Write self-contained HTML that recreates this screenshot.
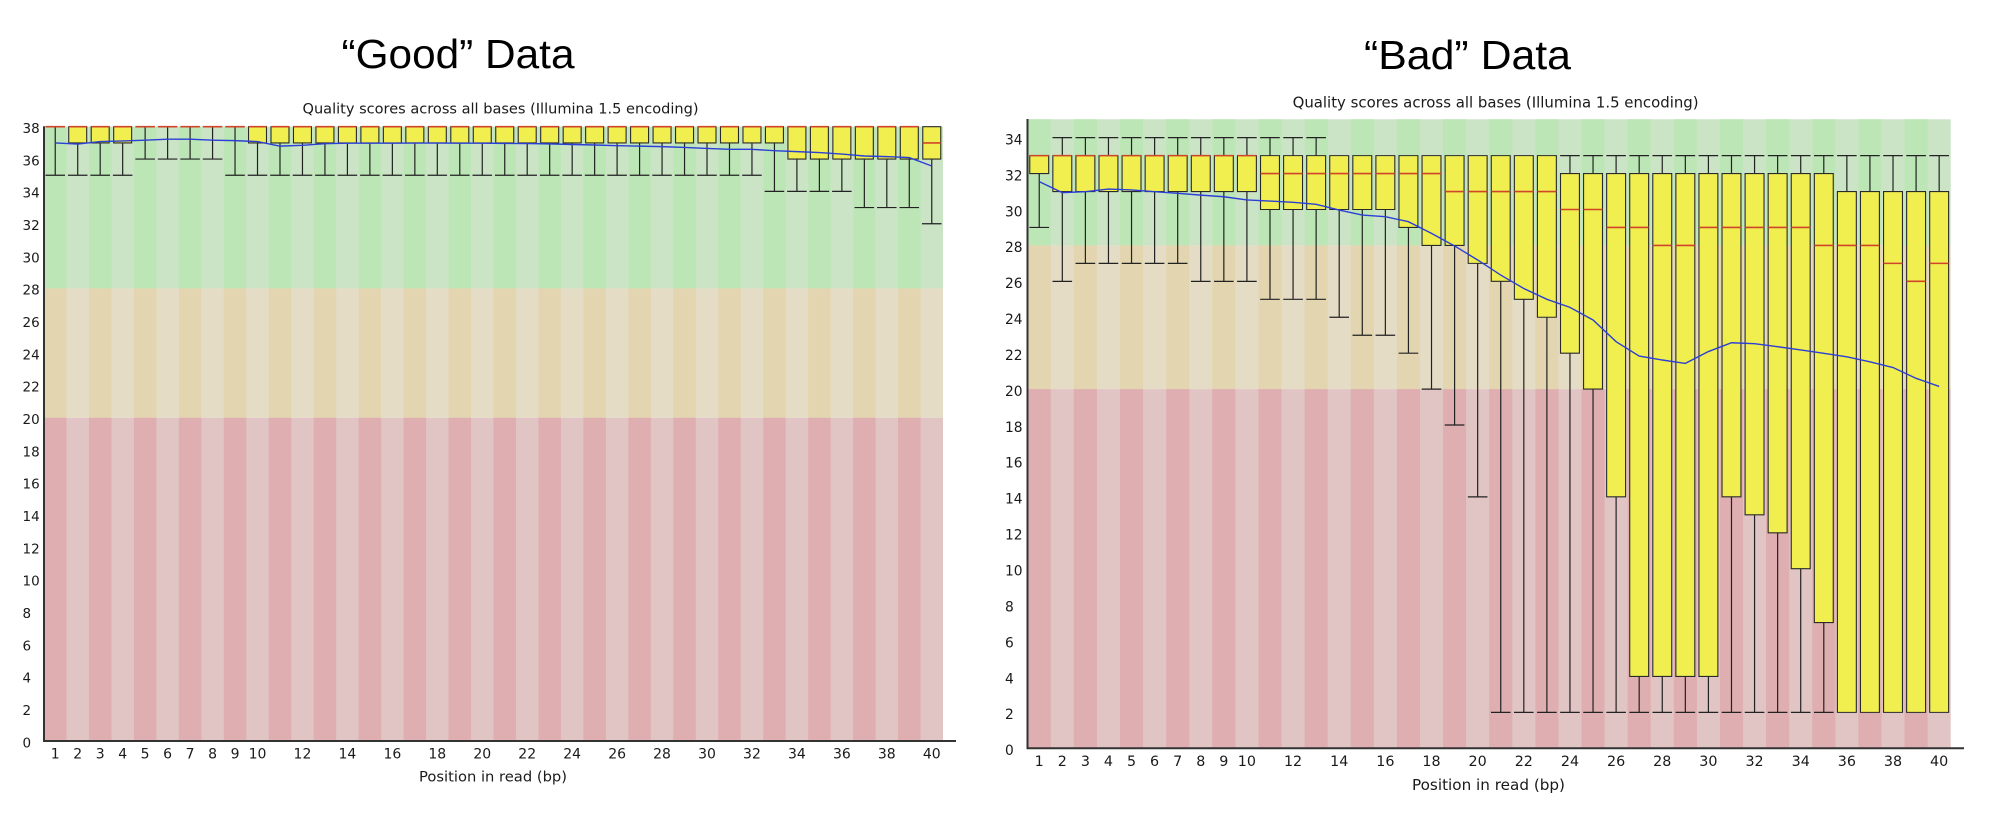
<!DOCTYPE html>
<html><head><meta charset="utf-8"><style>
html,body{margin:0;padding:0;background:#fff;}
svg{display:block;}
.g *{vector-effect:non-scaling-stroke;}
.big{font-family:"Liberation Sans",Arial,sans-serif;font-size:41px;fill:#000;}
.tt{font-family:"DejaVu Sans","Liberation Sans",sans-serif;fill:#1a1a1a;}
</style></head><body>
<svg width="1994" height="826" viewBox="0 0 1994 826" xmlns="http://www.w3.org/2000/svg">
<rect width="1994" height="826" fill="#fff"/>
<text class="big" x="458" y="68" text-anchor="middle" textLength="233" lengthAdjust="spacingAndGlyphs">“Good” Data</text>
<text class="big" x="1467.5" y="69" text-anchor="middle" textLength="207" lengthAdjust="spacingAndGlyphs">“Bad” Data</text>
<text class="tt" x="500.5" y="113.5" font-size="14.6" text-anchor="middle" textLength="396" lengthAdjust="spacingAndGlyphs">Quality scores across all bases (Illumina 1.5 encoding)</text>
<text class="tt" x="1495.6" y="107.5" font-size="15" text-anchor="middle" textLength="406" lengthAdjust="spacingAndGlyphs">Quality scores across all bases (Illumina 1.5 encoding)</text>

<!-- LEFT backgrounds -->
<rect x="44" y="126.7" width="899" height="161.7" fill="#cbe4c6"/>
<rect x="44" y="288.4" width="899" height="129.3" fill="#e5dcc6"/>
<rect x="44" y="417.7" width="899" height="323.3" fill="#e1c4c4"/>
<line x1="44" y1="207.55" x2="943" y2="207.55" stroke="#bce6b6" stroke-width="161.7" stroke-dasharray="22.475 22.475"/>
<line x1="44" y1="353.05" x2="943" y2="353.05" stroke="#e3d5b0" stroke-width="129.3" stroke-dasharray="22.475 22.475"/>
<line x1="44" y1="579.35" x2="943" y2="579.35" stroke="#dfaeb0" stroke-width="323.3" stroke-dasharray="22.475 22.475"/>

<!-- RIGHT backgrounds -->
<rect x="1027.7" y="119.3" width="923" height="126.12" fill="#cbe4c6"/>
<rect x="1027.7" y="245.42" width="923" height="143.68" fill="#e5dcc6"/>
<rect x="1027.7" y="389.1" width="923" height="359.2" fill="#e1c4c4"/>
<line x1="1027.7" y1="182.36" x2="1950.7" y2="182.36" stroke="#bce6b6" stroke-width="126.12" stroke-dasharray="23.075 23.075"/>
<line x1="1027.7" y1="317.26" x2="1950.7" y2="317.26" stroke="#e3d5b0" stroke-width="143.68" stroke-dasharray="23.075 23.075"/>
<line x1="1027.7" y1="568.7" x2="1950.7" y2="568.7" stroke="#dfaeb0" stroke-width="359.2" stroke-dasharray="23.075 23.075"/>

<!-- LEFT data -->
<g class="g" transform="translate(44,741) scale(22.475,-16.165)">
<path fill="none" stroke="#222" stroke-width="1.2" d="M0.5 38V35M0.065 35H0.935M1.5 37V35M1.065 35H1.935M2.5 37V35M2.065 35H2.935M3.5 37V35M3.065 35H3.935M4.5 38V36M4.065 36H4.935M5.5 38V36M5.065 36H5.935M6.5 38V36M6.065 36H6.935M7.5 38V36M7.065 36H7.935M8.5 38V35M8.065 35H8.935M9.5 37V35M9.065 35H9.935M10.5 37V35M10.065 35H10.935M11.5 37V35M11.065 35H11.935M12.5 37V35M12.065 35H12.935M13.5 37V35M13.065 35H13.935M14.5 37V35M14.065 35H14.935M15.5 37V35M15.065 35H15.935M16.5 37V35M16.065 35H16.935M17.5 37V35M17.065 35H17.935M18.5 37V35M18.065 35H18.935M19.5 37V35M19.065 35H19.935M20.5 37V35M20.065 35H20.935M21.5 37V35M21.065 35H21.935M22.5 37V35M22.065 35H22.935M23.5 37V35M23.065 35H23.935M24.5 37V35M24.065 35H24.935M25.5 37V35M25.065 35H25.935M26.5 37V35M26.065 35H26.935M27.5 37V35M27.065 35H27.935M28.5 37V35M28.065 35H28.935M29.5 37V35M29.065 35H29.935M30.5 37V35M30.065 35H30.935M31.5 37V35M31.065 35H31.935M32.5 37V34M32.065 34H32.935M33.5 36V34M33.065 34H33.935M34.5 36V34M34.065 34H34.935M35.5 36V34M35.065 34H35.935M36.5 36V33M36.065 33H36.935M37.5 36V33M37.065 33H37.935M38.5 36V33M38.065 33H38.935M39.5 36V32M39.065 32H39.935"/>
<path fill="#f1ef4f" stroke="#2a2a2a" stroke-width="1.1" d="M1.1 37H1.9V38H1.1ZM2.1 37H2.9V38H2.1ZM3.1 37H3.9V38H3.1ZM9.1 37H9.9V38H9.1ZM10.1 37H10.9V38H10.1ZM11.1 37H11.9V38H11.1ZM12.1 37H12.9V38H12.1ZM13.1 37H13.9V38H13.1ZM14.1 37H14.9V38H14.1ZM15.1 37H15.9V38H15.1ZM16.1 37H16.9V38H16.1ZM17.1 37H17.9V38H17.1ZM18.1 37H18.9V38H18.1ZM19.1 37H19.9V38H19.1ZM20.1 37H20.9V38H20.1ZM21.1 37H21.9V38H21.1ZM22.1 37H22.9V38H22.1ZM23.1 37H23.9V38H23.1ZM24.1 37H24.9V38H24.1ZM25.1 37H25.9V38H25.1ZM26.1 37H26.9V38H26.1ZM27.1 37H27.9V38H27.1ZM28.1 37H28.9V38H28.1ZM29.1 37H29.9V38H29.1ZM30.1 37H30.9V38H30.1ZM31.1 37H31.9V38H31.1ZM32.1 37H32.9V38H32.1ZM33.1 36H33.9V38H33.1ZM34.1 36H34.9V38H34.1ZM35.1 36H35.9V38H35.1ZM36.1 36H36.9V38H36.1ZM37.1 36H37.9V38H37.1ZM38.1 36H38.9V38H38.1ZM39.1 36H39.9V38H39.1Z"/>
<path fill="none" stroke="#d0452a" stroke-width="1.6" d="M0.065 38H0.935M1.1 38H1.9M2.1 38H2.9M3.1 38H3.9M4.065 38H4.935M5.065 38H5.935M6.065 38H6.935M7.065 38H7.935M8.065 38H8.935M9.1 38H9.9M10.1 38H10.9M11.1 38H11.9M12.1 38H12.9M13.1 38H13.9M14.1 38H14.9M15.1 38H15.9M16.1 38H16.9M17.1 38H17.9M18.1 38H18.9M19.1 38H19.9M20.1 38H20.9M21.1 38H21.9M22.1 38H22.9M23.1 38H23.9M24.1 38H24.9M25.1 38H25.9M26.1 38H26.9M27.1 38H27.9M28.1 38H28.9M29.1 38H29.9M30.1 38H30.9M31.1 38H31.9M32.1 38H32.9M33.1 38H33.9M34.1 38H34.9M35.1 38H35.9M36.1 38H36.9M37.1 38H37.9M38.1 38H38.9M39.1 37H39.9"/>
<polyline fill="none" stroke="#2b3fd6" stroke-width="1.4" points="0.5,37 1.5,36.93 2.5,37.08 3.5,37.12 4.5,37.17 5.5,37.23 6.5,37.23 7.5,37.17 8.5,37.14 9.5,37.08 10.5,36.8 11.5,36.85 12.5,36.95 13.5,36.98 14.5,36.98 15.5,36.98 16.5,36.99 17.5,36.99 18.5,36.98 19.5,36.98 20.5,36.97 21.5,36.96 22.5,36.94 23.5,36.9 24.5,36.87 25.5,36.83 26.5,36.8 27.5,36.77 28.5,36.72 29.5,36.66 30.5,36.6 31.5,36.6 32.5,36.52 33.5,36.46 34.5,36.4 35.5,36.31 36.5,36.19 37.5,36.15 38.5,36.09 39.5,35.57"/>
</g>

<!-- RIGHT data -->
<g class="g" transform="translate(1027.7,748.3) scale(23.075,-17.96)">
<path fill="none" stroke="#222" stroke-width="1.2" d="M0.5 32V29M0.075 29H0.925M1.5 31V26M1.075 26H1.925M1.5 33V34M1.075 34H1.925M2.5 31V27M2.075 27H2.925M2.5 33V34M2.075 34H2.925M3.5 31V27M3.075 27H3.925M3.5 33V34M3.075 34H3.925M4.5 31V27M4.075 27H4.925M4.5 33V34M4.075 34H4.925M5.5 31V27M5.075 27H5.925M5.5 33V34M5.075 34H5.925M6.5 31V27M6.075 27H6.925M6.5 33V34M6.075 34H6.925M7.5 31V26M7.075 26H7.925M7.5 33V34M7.075 34H7.925M8.5 31V26M8.075 26H8.925M8.5 33V34M8.075 34H8.925M9.5 31V26M9.075 26H9.925M9.5 33V34M9.075 34H9.925M10.5 30V25M10.075 25H10.925M10.5 33V34M10.075 34H10.925M11.5 30V25M11.075 25H11.925M11.5 33V34M11.075 34H11.925M12.5 30V25M12.075 25H12.925M12.5 33V34M12.075 34H12.925M13.5 30V24M13.075 24H13.925M14.5 30V23M14.075 23H14.925M15.5 30V23M15.075 23H15.925M16.5 29V22M16.075 22H16.925M17.5 28V20M17.075 20H17.925M18.5 28V18M18.075 18H18.925M19.5 27V14M19.075 14H19.925M20.5 26V2M20.075 2H20.925M21.5 25V2M21.075 2H21.925M22.5 24V2M22.075 2H22.925M23.5 22V2M23.075 2H23.925M23.5 32V33M23.075 33H23.925M24.5 20V2M24.075 2H24.925M24.5 32V33M24.075 33H24.925M25.5 14V2M25.075 2H25.925M25.5 32V33M25.075 33H25.925M26.5 4V2M26.075 2H26.925M26.5 32V33M26.075 33H26.925M27.5 4V2M27.075 2H27.925M27.5 32V33M27.075 33H27.925M28.5 4V2M28.075 2H28.925M28.5 32V33M28.075 33H28.925M29.5 4V2M29.075 2H29.925M29.5 32V33M29.075 33H29.925M30.5 14V2M30.075 2H30.925M30.5 32V33M30.075 33H30.925M31.5 13V2M31.075 2H31.925M31.5 32V33M31.075 33H31.925M32.5 12V2M32.075 2H32.925M32.5 32V33M32.075 33H32.925M33.5 10V2M33.075 2H33.925M33.5 32V33M33.075 33H33.925M34.5 7V2M34.075 2H34.925M34.5 32V33M34.075 33H34.925M35.5 31V33M35.075 33H35.925M36.5 31V33M36.075 33H36.925M37.5 31V33M37.075 33H37.925M38.5 31V33M38.075 33H38.925M39.5 31V33M39.075 33H39.925"/>
<path fill="#f1ef4f" stroke="#2a2a2a" stroke-width="1.1" d="M0.09 32H0.91V33H0.09ZM1.09 31H1.91V33H1.09ZM2.09 31H2.91V33H2.09ZM3.09 31H3.91V33H3.09ZM4.09 31H4.91V33H4.09ZM5.09 31H5.91V33H5.09ZM6.09 31H6.91V33H6.09ZM7.09 31H7.91V33H7.09ZM8.09 31H8.91V33H8.09ZM9.09 31H9.91V33H9.09ZM10.09 30H10.91V33H10.09ZM11.09 30H11.91V33H11.09ZM12.09 30H12.91V33H12.09ZM13.09 30H13.91V33H13.09ZM14.09 30H14.91V33H14.09ZM15.09 30H15.91V33H15.09ZM16.09 29H16.91V33H16.09ZM17.09 28H17.91V33H17.09ZM18.09 28H18.91V33H18.09ZM19.09 27H19.91V33H19.09ZM20.09 26H20.91V33H20.09ZM21.09 25H21.91V33H21.09ZM22.09 24H22.91V33H22.09ZM23.09 22H23.91V32H23.09ZM24.09 20H24.91V32H24.09ZM25.09 14H25.91V32H25.09ZM26.09 4H26.91V32H26.09ZM27.09 4H27.91V32H27.09ZM28.09 4H28.91V32H28.09ZM29.09 4H29.91V32H29.09ZM30.09 14H30.91V32H30.09ZM31.09 13H31.91V32H31.09ZM32.09 12H32.91V32H32.09ZM33.09 10H33.91V32H33.09ZM34.09 7H34.91V32H34.09ZM35.09 2H35.91V31H35.09ZM36.09 2H36.91V31H36.09ZM37.09 2H37.91V31H37.09ZM38.09 2H38.91V31H38.09ZM39.09 2H39.91V31H39.09Z"/>
<path fill="none" stroke="#d0452a" stroke-width="1.6" d="M0.09 33H0.91M1.09 33H1.91M2.09 33H2.91M3.09 33H3.91M4.09 33H4.91M5.09 33H5.91M6.09 33H6.91M7.09 33H7.91M8.09 33H8.91M9.09 33H9.91M10.09 32H10.91M11.09 32H11.91M12.09 32H12.91M13.09 32H13.91M14.09 32H14.91M15.09 32H15.91M16.09 32H16.91M17.09 32H17.91M18.09 31H18.91M19.09 31H19.91M20.09 31H20.91M21.09 31H21.91M22.09 31H22.91M23.09 30H23.91M24.09 30H24.91M25.09 29H25.91M26.09 29H26.91M27.09 28H27.91M28.09 28H28.91M29.09 29H29.91M30.09 29H30.91M31.09 29H31.91M32.09 29H32.91M33.09 29H33.91M34.09 28H34.91M35.09 28H35.91M36.09 28H36.91M37.09 27H37.91M38.09 26H38.91M39.09 27H39.91"/>
<polyline fill="none" stroke="#2b3fd6" stroke-width="1.4" points="0.5,31.55 1.5,30.94 2.5,30.99 3.5,31.14 4.5,31.09 5.5,30.99 6.5,30.9 7.5,30.8 8.5,30.71 9.5,30.53 10.5,30.47 11.5,30.4 12.5,30.29 13.5,29.97 14.5,29.69 15.5,29.6 16.5,29.32 17.5,28.67 18.5,27.97 19.5,27.19 20.5,26.35 21.5,25.6 22.5,25.0 23.5,24.55 24.5,23.85 25.5,22.64 26.5,21.84 27.5,21.62 28.5,21.43 29.5,22.09 30.5,22.58 31.5,22.53 32.5,22.36 33.5,22.18 34.5,21.99 35.5,21.8 36.5,21.52 37.5,21.2 38.5,20.6 39.5,20.15"/>
</g>

<!-- axes -->
<path fill="none" stroke="#333" stroke-width="2" d="M44 126.2V741H956"/>
<path fill="none" stroke="#333" stroke-width="2" d="M1027.5 119V748.3H1964"/>

<!-- LEFT y labels -->
<g class="tt" font-size="13.5">
<text x="22.5" y="747.3">0</text><text x="22.5" y="715">2</text><text x="22.5" y="682.6">4</text><text x="22.5" y="650.3">6</text><text x="22.5" y="618">8</text><text x="22.5" y="585.7">10</text><text x="22.5" y="553.3">12</text><text x="22.5" y="521">14</text><text x="22.5" y="488.7">16</text><text x="22.5" y="456.3">18</text><text x="22.5" y="424">20</text><text x="22.5" y="391.7">22</text><text x="22.5" y="359.3">24</text><text x="22.5" y="327">26</text><text x="22.5" y="294.7">28</text><text x="22.5" y="262.4">30</text><text x="22.5" y="230">32</text><text x="22.5" y="197.7">34</text><text x="22.5" y="165.4">36</text><text x="22.5" y="133">38</text>
</g>
<!-- RIGHT y labels -->
<g class="tt" font-size="13.8">
<text x="1005" y="755.1">0</text><text x="1005" y="719.2">2</text><text x="1005" y="683.3">4</text><text x="1005" y="647.3">6</text><text x="1005" y="611.4">8</text><text x="1005" y="575.5">10</text><text x="1005" y="539.6">12</text><text x="1005" y="503.7">14</text><text x="1005" y="467.7">16</text><text x="1005" y="431.8">18</text><text x="1005" y="395.9">20</text><text x="1005" y="360">22</text><text x="1005" y="324.1">24</text><text x="1005" y="288.1">26</text><text x="1005" y="252.2">28</text><text x="1005" y="216.3">30</text><text x="1005" y="180.4">32</text><text x="1005" y="144.5">34</text>
</g>
<!-- LEFT x labels -->
<g class="tt" font-size="14" text-anchor="middle">
<text x="55.24" y="758.7">1</text><text x="77.71" y="758.7">2</text><text x="100.19" y="758.7">3</text><text x="122.66" y="758.7">4</text><text x="145.14" y="758.7">5</text><text x="167.61" y="758.7">6</text><text x="190.09" y="758.7">7</text><text x="212.56" y="758.7">8</text><text x="235.04" y="758.7">9</text><text x="257.51" y="758.7">10</text><text x="302.46" y="758.7">12</text><text x="347.41" y="758.7">14</text><text x="392.36" y="758.7">16</text><text x="437.31" y="758.7">18</text><text x="482.26" y="758.7">20</text><text x="527.21" y="758.7">22</text><text x="572.16" y="758.7">24</text><text x="617.11" y="758.7">26</text><text x="662.06" y="758.7">28</text><text x="707.01" y="758.7">30</text><text x="751.96" y="758.7">32</text><text x="796.91" y="758.7">34</text><text x="841.86" y="758.7">36</text><text x="886.81" y="758.7">38</text><text x="931.76" y="758.7">40</text>
</g>
<text class="tt" x="493" y="781.7" font-size="14.6" text-anchor="middle" textLength="148" lengthAdjust="spacingAndGlyphs">Position in read (bp)</text>
<!-- RIGHT x labels -->
<g class="tt" font-size="14.3" text-anchor="middle">
<text x="1039.24" y="766">1</text><text x="1062.31" y="766">2</text><text x="1085.39" y="766">3</text><text x="1108.46" y="766">4</text><text x="1131.54" y="766">5</text><text x="1154.61" y="766">6</text><text x="1177.69" y="766">7</text><text x="1200.76" y="766">8</text><text x="1223.84" y="766">9</text><text x="1246.91" y="766">10</text><text x="1293.06" y="766">12</text><text x="1339.21" y="766">14</text><text x="1385.36" y="766">16</text><text x="1431.51" y="766">18</text><text x="1477.66" y="766">20</text><text x="1523.81" y="766">22</text><text x="1569.96" y="766">24</text><text x="1616.11" y="766">26</text><text x="1662.26" y="766">28</text><text x="1708.41" y="766">30</text><text x="1754.56" y="766">32</text><text x="1800.71" y="766">34</text><text x="1846.86" y="766">36</text><text x="1893.01" y="766">38</text><text x="1939.16" y="766">40</text>
</g>
<text class="tt" x="1488.5" y="790" font-size="15" text-anchor="middle" textLength="153" lengthAdjust="spacingAndGlyphs">Position in read (bp)</text>
</svg>
</body></html>
